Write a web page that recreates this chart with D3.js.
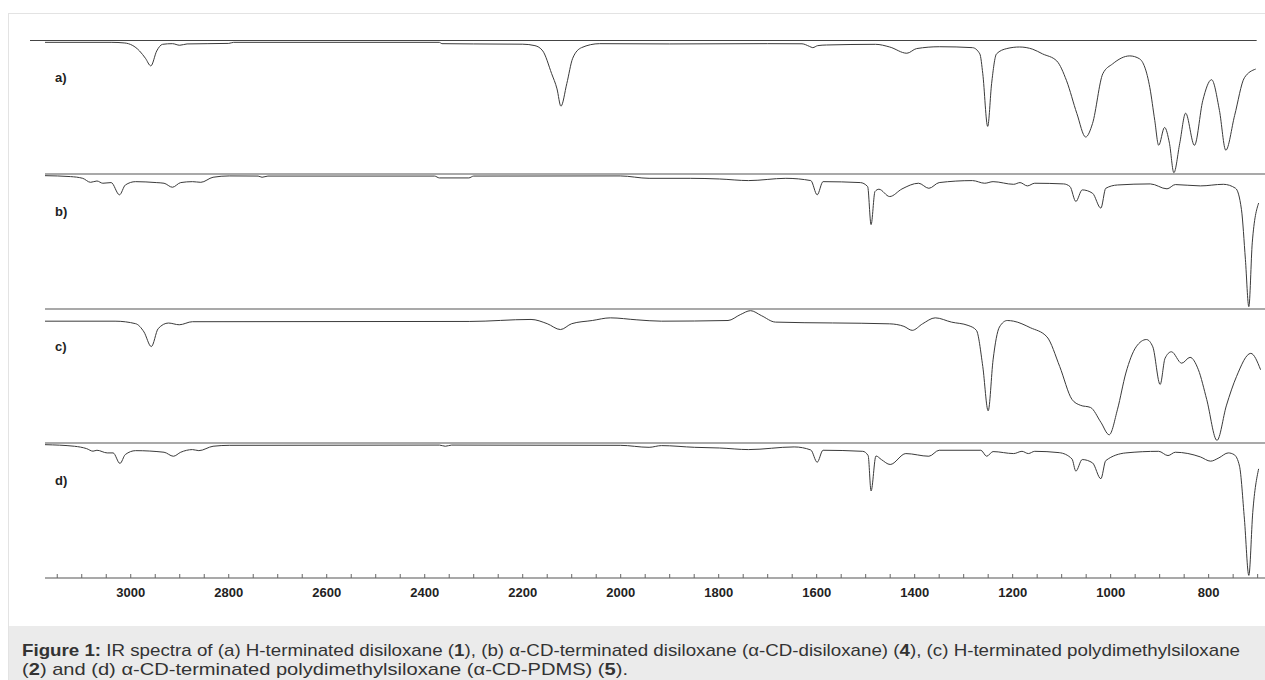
<!DOCTYPE html>
<html>
<head>
<meta charset="utf-8">
<script src="https://cdn.jsdelivr.net/npm/d3@7"></script>
<style>
  body { margin: 0; background: #fff; }
  svg { display: block; }
</style>
</head>
<body>
<svg id="chart" width="1265" height="680"></svg>
<script>
// spectra: [wavenumber cm-1, transmittance %]
const specA = [[3175,99],[3040,99],[3012,98.5],[2982,92.5],[2970,87],[2959,81.3],[2947,92.5],[2935,97.5],[2915,98],[2900,96.8],[2885,97.8],[2800,98.2],[2790,99],[2370,99],[2365,98],[2300,97.8],[2200,97.6],[2175,96.5],[2159,92.5],[2141,75.5],[2130,64],[2122,51],[2110,68],[2098,87],[2080,95],[2043,98],[1900,97.8],[1700,98],[1630,97.9],[1615,96],[1608,95],[1598,96.5],[1580,97],[1480,97.5],[1451,95.5],[1416,90.8],[1396,94.3],[1349,95.7],[1282,95],[1267,90.3],[1261,75.4],[1251,35.8],[1243,67.9],[1233,90.3],[1212,94.3],[1186,95.5],[1159,93.8],[1139,90.3],[1110,85],[1090,70.1],[1069,45.5],[1051,27.8],[1037,38],[1016,75.4],[996,82.8],[961,88.8],[941,86.6],[920,64.9],[910,40.3],[902,21.6],[890,35],[880,23.1],[871,1],[859,23.1],[847,45.7],[829,21.6],[812,55.2],[794,70.9],[778,47.8],[765,17.9],[747,44],[727,72.4],[704,78.9]];

const specB = [[3175,99.5],[3123,98.8],[3098,97.5],[3082,94.5],[3069,95.5],[3057,93.8],[3040,94.3],[3023,85.1],[3011,92.5],[2990,95],[2948,94.3],[2932,93.8],[2915,90.8],[2898,94.3],[2874,95],[2857,94.5],[2832,98.3],[2799,99.3],[2740,99.2],[2732,98.3],[2720,99.2],[2380,99.2],[2370,97.8],[2310,97.8],[2300,99.2],[2001,99.3],[1942,97.5],[1858,97.5],[1798,97],[1739,95.8],[1663,97.5],[1612,95.8],[1599,85.1],[1587,95],[1511,94.3],[1496,91.3],[1489,62.7],[1481,87.6],[1473,89.3],[1451,83.8],[1426,89.5],[1392,93.8],[1371,90],[1350,94.3],[1282,95.8],[1257,93.8],[1240,95],[1198,93],[1185,94.3],[1170,91.8],[1155,93.8],[1096,93.3],[1083,91.3],[1071,80.1],[1058,88.8],[1037,86.3],[1020,75.1],[1010,90],[986,92.5],[919,93.3],[885,89.6],[868,92.8],[817,91.8],[770,93],[745,90],[733,73.9],[725,36.6],[718,1],[711,49],[698,78.9]];

const specC = [[3175,91.6],[3032,91.6],[2990,89.7],[2973,83.5],[2958,72.5],[2944,86],[2923,90.2],[2901,88.9],[2874,91.2],[2308,91.4],[2183,92.9],[2150,89.7],[2123,85.3],[2100,89.7],[2058,92.1],[2021,94.1],[1967,92.6],[1917,91.6],[1781,92.1],[1756,96.5],[1735,99.5],[1713,95.8],[1684,90.9],[1451,89.6],[1422,87.7],[1405,84.7],[1384,89.6],[1358,94.1],[1325,90.9],[1291,88.4],[1274,84.7],[1261,57.5],[1250,24.2],[1240,62.5],[1227,87.2],[1211,92.1],[1198,91.6],[1164,86.7],[1130,79.8],[1104,57.5],[1079,32.8],[1062,28.4],[1041,26.7],[1020,15.6],[1003,6.2],[986,25.4],[969,52.6],[948,72.3],[927,77.8],[914,72.3],[899,44],[889,63.7],[876,68.6],[855,60],[838,64.4],[821,55.1],[804,32.8],[783,2],[764,27.9],[743,50.1],[714,67.4],[694,55.1]];

const specD = [[3175,99.5],[3115,98.3],[3090,96.5],[3077,94.6],[3069,95.3],[3048,93.3],[3036,93.3],[3022,85.4],[3011,92.1],[2990,95],[2932,93.8],[2913,90.8],[2898,93.8],[2874,95.8],[2861,95],[2832,98.3],[2799,99],[2370,99.2],[2358,98.3],[2345,99.2],[2001,99],[1942,97.5],[1917,98.8],[1849,97.5],[1798,97],[1739,95.8],[1646,97.8],[1612,95.5],[1599,86.3],[1587,95.3],[1506,94.5],[1495,91.3],[1489,64.7],[1479,91],[1468,88.3],[1450,84.6],[1418,92.8],[1371,90.8],[1350,95.3],[1265,95.3],[1253,90.8],[1240,94.3],[1198,92.8],[1181,94.5],[1168,92.8],[1155,94.5],[1105,93.5],[1079,88.8],[1071,79.6],[1058,88.3],[1037,85.8],[1020,73.9],[1010,87.5],[969,93.3],[902,94.5],[883,91.3],[868,93.8],[817,90.3],[796,87.1],[779,89.6],[760,93.3],[748,92],[737,83.3],[727,43.5],[718,1.2],[710,48.5],[698,81.3]];

const spectra = [specA, specB, specC, specD];
const panelLabels = ["a)", "b)", "c)", "d)"];
const majorTicks = [3000, 2800, 2600, 2400, 2200, 2000, 1800, 1600, 1400, 1200, 1000, 800];
const minorTicks = d3.range(3150, 699, -50);

const captionLine1 = [["Figure 1:", true], [" IR spectra of (a) H-terminated disiloxane (", false], ["1", true], ["), (b) \u03b1-CD-terminated disiloxane (\u03b1-CD-disiloxane) (", false], ["4", true], ["), (c) H-terminated polydimethylsiloxane", false]];
const captionLine2 = [["(", false], ["2", true], [") and (d) \u03b1-CD-terminated polydimethylsiloxane (\u03b1-CD-PDMS) (", false], ["5", true], [").", false]];

const svg = d3.select("#chart");
const width = 1265, height = 680;

// frame + caption background
svg.append("rect")
    .attr("x", 8.5).attr("y", 13.5)
    .attr("width", width).attr("height", height)
    .attr("fill", "#fff")
    .attr("stroke", "#e3e3e3");
svg.append("rect")
    .attr("x", 9).attr("y", 626)
    .attr("width", width).attr("height", 60)
    .attr("fill", "#ebebeb");

const x = d3.scaleLinear().domain([3175, 685]).range([45, 1265]);
const panelTops = [40, 174, 309, 443];
const panelH = 135;

// dark top line of panel a
svg.append("line")
    .attr("x1", 30).attr("x2", x(702))
    .attr("y1", 40.5).attr("y2", 40.5)
    .attr("stroke", "#444").attr("stroke-width", 1);

// grey separators between panels + axis line
[174, 309, 443, 578].forEach(yy => {
    svg.append("line")
        .attr("x1", 45).attr("x2", width)
        .attr("y1", yy).attr("y2", yy)
        .attr("stroke", "#a9a9a9").attr("stroke-width", 2);
});

spectra.forEach((spec, i) => {
    const top = panelTops[i];
    const y = d3.scaleLinear().domain([0, 100]).range([top + panelH - 1, top + 1]);
    const line = d3.line()
        .x(d => x(d[0]))
        .y(d => y(d[1]))
        .curve(d3.curveMonotoneX);
    svg.append("path")
        .datum(spec)
        .attr("d", line)
        .attr("fill", "none")
        .attr("stroke", "#3a3a3a")
        .attr("stroke-width", 1);

    svg.append("text")
        .attr("x", 55)
        .attr("y", top + 42)
        .attr("font-family", "'Liberation Sans Narrow', 'Arial Narrow', Arial, sans-serif")
        .attr("font-weight", "bold")
        .attr("font-size", "13px")
        .attr("fill", "#222")
        .text(panelLabels[i]);
});

// x axis ticks and labels
const axisG = svg.append("g");
axisG.selectAll("line.minor")
    .data(minorTicks)
    .enter().append("line")
    .attr("x1", d => x(d)).attr("x2", d => x(d))
    .attr("y1", 574).attr("y2", 578)
    .attr("stroke", "#666").attr("stroke-width", 1);
axisG.selectAll("text")
    .data(majorTicks)
    .enter().append("text")
    .attr("x", d => x(d))
    .attr("y", 597)
    .attr("text-anchor", "middle")
    .attr("font-family", "'Liberation Sans Narrow', 'Arial Narrow', Arial, sans-serif")
    .attr("font-weight", "bold")
    .attr("font-size", "13px")
    .attr("fill", "#222")
    .text(d => d);

// caption, stretched to the widths seen in the figure
function captionLine(parts, yy, len) {
    const t = svg.append("text")
        .attr("x", 22).attr("y", yy)
        .attr("font-family", "'Liberation Sans', Arial, sans-serif")
        .attr("font-size", "17px")
        .attr("fill", "#333")
        .attr("textLength", len)
        .attr("lengthAdjust", "spacingAndGlyphs");
    parts.forEach(p => {
        t.append("tspan")
            .attr("font-weight", p[1] ? "bold" : "normal")
            .text(p[0]);
    });
}
captionLine(captionLine1, 656, 1218);
captionLine(captionLine2, 675, 606);
</script>
</body>
</html>
